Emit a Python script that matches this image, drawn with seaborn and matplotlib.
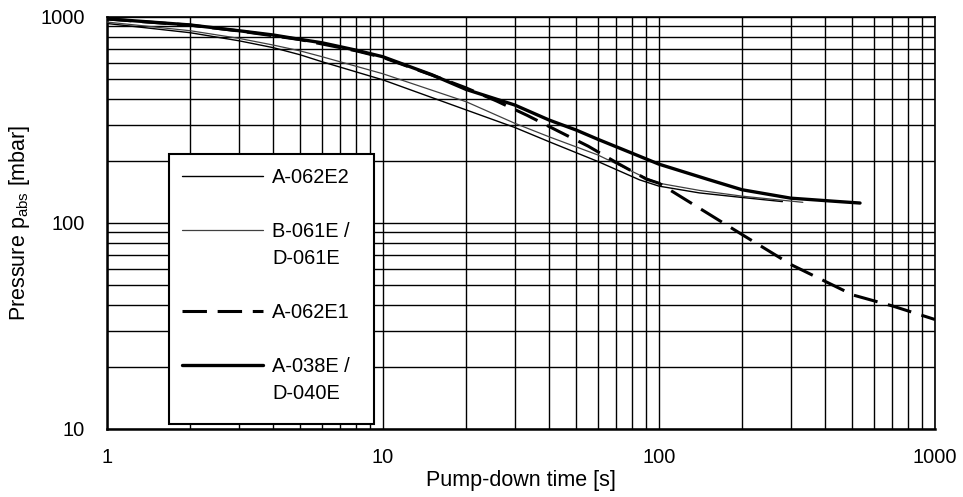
import numpy as np
import pandas as pd
import matplotlib
matplotlib.use("Agg")
import matplotlib.pyplot as plt
from matplotlib.lines import Line2D
from matplotlib.patches import Rectangle
import seaborn as sns

# ---------------- data ----------------
t_a062e2 = [1, 2, 3, 4, 5, 6, 10, 20, 30, 40, 60, 85, 100, 140, 200, 280]
p_a062e2 = [930, 839, 767, 710, 656, 607, 495, 354, 291, 248, 199, 162, 151, 140, 133, 127]

t_b061e = [1, 2, 3, 4, 5, 6, 10, 20, 30, 40, 60, 85, 100, 140, 200, 332]
p_b061e = [945, 858, 788, 731, 685, 642, 530, 388, 305, 262, 214, 171, 156, 144, 135, 126]

t_a062e1 = [1, 2, 3, 5, 8, 10, 15.3, 19.9, 25.8, 33.3, 43.2, 55.4, 70.3, 90.3, 100, 201, 303, 505, 704, 1000]
p_a062e1 = [978, 913, 856, 777, 685, 636, 518, 454, 391, 333, 279, 236, 196, 163, 156, 87.5, 62.5, 44.7, 39.5, 34]

t_a038e = [1, 2, 3, 4, 5, 6, 8, 10, 15, 20, 30, 40, 50, 60, 80, 100, 150, 200, 300, 450, 535]
p_a038e = [980, 915, 858, 818, 779, 750, 690, 641, 525, 445, 374, 316, 283, 255, 218, 193, 163, 145, 132, 127, 125]

x_ticks = [1, 10, 100, 1000]
x_ticklabels = ["1", "10", "100", "1000"]
y_ticks = [10, 100, 1000]
y_ticklabels = ["10", "100", "1000"]

# ---------------- style ----------------
sns.set_style("white")
plt.rcParams["font.family"] = ["Liberation Sans", "DejaVu Sans"]
plt.rcParams["text.color"] = "black"
plt.rcParams["axes.labelcolor"] = "black"
FS = 14.4
FS_LABEL = 15.5

fig = plt.figure(figsize=(9.63, 4.97), dpi=100)
ax = fig.add_axes([107 / 963, 1 - 429 / 497, 828 / 963, 412 / 497])

def frame(t, p, name):
    return pd.DataFrame({"t": t, "p": p, "series": name})

df_e2 = frame(t_a062e2, p_a062e2, "A-062E2")
df_b = frame(t_b061e, p_b061e, "B-061E / D-061E")
df_e1 = frame(t_a062e1, p_a062e1, "A-062E1")
df_38 = frame(t_a038e, p_a038e, "A-038E / D-040E")

sns.lineplot(data=df_b, x="t", y="p", ax=ax, color="0.25", lw=0.9,
             estimator=None, sort=False, legend=False, zorder=3)
h_b = ax.lines[-1]
sns.lineplot(data=df_e2, x="t", y="p", ax=ax, color="black", lw=1.0,
             estimator=None, sort=False, legend=False, zorder=3)
h_e2 = ax.lines[-1]
sns.lineplot(data=df_e1, x="t", y="p", ax=ax, color="black", lw=2.2,
             estimator=None, sort=False, legend=False, zorder=3)
h_e1 = ax.lines[-1]
h_e1.set_dashes((8, 3.5))
h_e1.set_dash_capstyle("butt")
sns.lineplot(data=df_38, x="t", y="p", ax=ax, color="black", lw=2.4,
             estimator=None, sort=False, legend=False, zorder=3)
h_38 = ax.lines[-1]

ax.set_xscale("log")
ax.set_yscale("log")
ax.set_xlim(1, 1000)
ax.set_ylim(10, 1000)
ax.set_xticks(x_ticks, x_ticklabels)
ax.set_yticks(y_ticks, y_ticklabels)

ax.set_axisbelow(True)
ax.grid(True, which="both", color="black", lw=1.0)
ax.tick_params(which="major", direction="out", length=7, width=1.5,
               labelsize=FS, color="black", labelcolor="black", pad=7)
ax.tick_params(axis="y", which="major", pad=9)
ax.tick_params(which="minor", length=0)

for side in ["left", "bottom"]:
    ax.spines[side].set_linewidth(1.8)
    ax.spines[side].set_color("black")
for side in ["top", "right"]:
    ax.spines[side].set_linewidth(1.2)
    ax.spines[side].set_color("black")

ax.set_xlabel("Pump-down time [s]", fontsize=FS_LABEL, labelpad=2, color="black")
ax.set_ylabel(r"Pressure p$_{\mathregular{abs}}$ [mbar]", fontsize=FS_LABEL,
              labelpad=6, color="black")

# legend frame
ax.add_patch(Rectangle((0.0749, 0.0121), 0.2476, 0.6554, transform=ax.transAxes,
                       facecolor="white", edgecolor="black", lw=1.5, zorder=4))

blank = Line2D([], [], linestyle="none")
handles = [h_e2, blank, h_b, blank, blank, h_e1, blank, h_38, blank]
labels = ["A-062E2", " ", "B-061E /", "D-061E", " ", "A-062E1", " ", "A-038E /", "D-040E"]
leg = ax.legend(handles, labels, loc="upper left", bbox_to_anchor=(0.0906, 0.634),
                frameon=False, fontsize=FS, handlelength=4.05, handletextpad=0.45,
                labelspacing=0.4, borderpad=0, borderaxespad=0, labelcolor="black")
leg.set_zorder(5)

fig.savefig("out.png", dpi=100)
